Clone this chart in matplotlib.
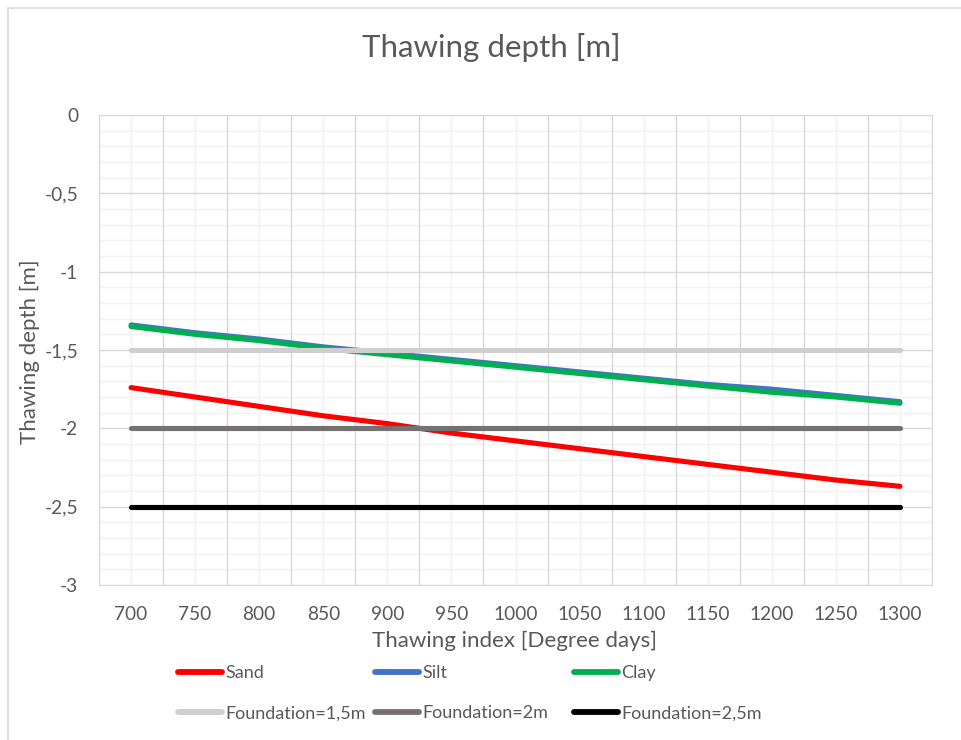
import matplotlib
matplotlib.use('Agg')
import matplotlib.pyplot as plt
from matplotlib.patches import Rectangle
from matplotlib.ticker import MultipleLocator, FuncFormatter

# data
index = [700, 750, 800, 850, 900, 950, 1000, 1050, 1100, 1150, 1200, 1250, 1300]
sand = [-1.74, -1.80, -1.86, -1.92, -1.97, -2.03, -2.08, -2.13, -2.18, -2.23, -2.28, -2.33, -2.37]
silt = [-1.34, -1.39, -1.43, -1.48, -1.52, -1.56, -1.60, -1.64, -1.68, -1.72, -1.75, -1.79, -1.83]
clay = [-1.35, -1.40, -1.44, -1.49, -1.53, -1.57, -1.61, -1.65, -1.69, -1.73, -1.77, -1.80, -1.84]
f15 = [-1.5] * 13
f20 = [-2.0] * 13
f25 = [-2.5] * 13

TXT = "#595959"; MAJ = "#D9D9D9"; MIN = "#F2F2F2"
plt.rcParams['font.family'] = ['Lato', 'DejaVu Sans']

W, H = 961, 740
fig = plt.figure(figsize=(W/100, H/100), dpi=100)
fig.patches.append(Rectangle((8/W, -0.1), 1.2, 1 - 8/H + 0.1, transform=fig.transFigure,
                             fill=False, ec=MAJ, lw=1.2))
ax = fig.add_axes([99/W, 1 - 585/H, 833/W, 470/H])

x = list(range(len(index)))
series = [(sand, "#FF0000", "Sand"), (silt, "#4472C4", "Silt"), (clay, "#00B050", "Clay"),
          (f15, "#D0CECE", "Foundation=1,5m"), (f20, "#767171", "Foundation=2m"),
          (f25, "#000000", "Foundation=2,5m")]
hs = []
for vals, col, lab in series:
    h, = ax.plot(x, vals, color=col, lw=3.7, solid_capstyle='round', label=lab, zorder=3)
    hs.append(h)

ax.set_xlim(-0.5, len(index) - 0.5)
ax.set_ylim(-3, 0)
ax.set_xticks(x)
ax.set_xticklabels([str(v) for v in index])
ax.yaxis.set_major_locator(MultipleLocator(0.5))
ax.yaxis.set_major_formatter(FuncFormatter(lambda v, p: ('%g' % v).replace('.', ',')))
# vertical gridlines: major at category boundaries, minor at centres
for xv in [i - 0.5 for i in range(len(index) + 1)]:
    ax.axvline(xv, color=MAJ, lw=1.0, zorder=1)
for xv in x:
    ax.axvline(xv, color=MIN, lw=1.0, zorder=0.5)
for i in range(31):
    yv = -i * 0.1
    ax.axhline(yv, color=MAJ if i % 5 == 0 else MIN, lw=1.0, zorder=1 if i % 5 == 0 else 0.5)
ax.tick_params(which='both', length=0, colors=TXT, labelsize=13.8)
ax.tick_params(axis='x', pad=15)
ax.tick_params(axis='y', pad=15)
for sp in ax.spines.values():
    sp.set_color(MAJ)

fig.text(491/W, 1 - 47/H, "Thawing depth [m]", ha='center', va='center', fontsize=22.5, color=TXT)
fig.text(515/W, 1 - 641/H, "Thawing index [Degree days]", ha='center', va='center', fontsize=16, color=TXT)
fig.text(30/W, 1 - 352/H, "Thawing depth [m]", ha='center', va='center', rotation=90, fontsize=16, color=TXT)

# legend: three columns placed like the reference
for k, x0 in enumerate([178, 375, 574]):
    leg = fig.legend([hs[k], hs[k + 3]], [hs[k].get_label(), hs[k + 3].get_label()],
                     loc='upper left', bbox_to_anchor=(x0/W, 1 - 665/H), frameon=False,
                     borderpad=0, borderaxespad=0, handlelength=2.45, handletextpad=0.17,
                     labelspacing=1.35, fontsize=13.0, labelcolor=TXT)
    for lh in leg.get_lines():
        lh.set_linewidth(4.2)

fig.savefig("out.png", dpi=100)
